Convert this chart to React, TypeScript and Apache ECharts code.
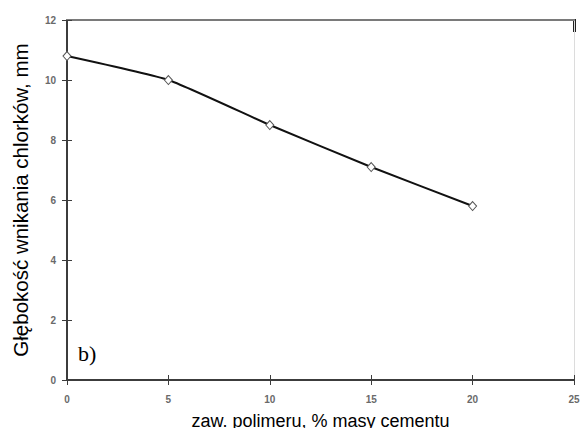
import React, { useEffect, useRef } from "react";
import * as echarts from "echarts";

const xValues = [0, 5, 10, 15, 20];
const depthValues = [10.8, 10.0, 8.5, 7.1, 5.8];
const xTicks = [0, 5, 10, 15, 20, 25];
const yTicks = [0, 2, 4, 6, 8, 10, 12];

export default function App() {
  const ref = useRef<HTMLDivElement>(null);
  useEffect(() => {
    if (!ref.current) return;
    const chart = echarts.init(ref.current, null, { renderer: "svg" });
    const font = "Liberation Sans, Arial, sans-serif";
    const labelStyle = { color: "#6a6a6a", fontSize: 10, fontFamily: font, fontWeight: "bold" as const };
    chart.setOption({
      animation: false,
      backgroundColor: "#ffffff",
      grid: { left: 67, right: 10, top: 20, bottom: 48, containLabel: false, outerBoundsMode: "none" },
      xAxis: [
        {
          type: "value",
          min: xTicks[0],
          max: xTicks[xTicks.length - 1],
          interval: 5,
          position: "bottom",
          axisLine: { show: true, onZero: false, lineStyle: { color: "#3c3c3c", width: 2 } },
          axisTick: { show: true, length: 5, inside: false, lineStyle: { color: "#3c3c3c", width: 1 } },
          axisLabel: { ...labelStyle, margin: 14 },
          splitLine: { show: false },
          name: "zaw. polimeru, % masy cementu",
          nameLocation: "middle",
          nameGap: 32,
          nameTextStyle: { color: "#000", fontSize: 18, fontFamily: font },
        },
        {
          type: "value",
          min: 0,
          max: 25,
          interval: 5,
          position: "top",
          axisLine: { show: true, onZero: false, lineStyle: { color: "#7a7a7a", width: 2 } },
          axisTick: { show: false },
          axisLabel: { show: false },
          splitLine: { show: false },
        },
        {
          type: "value",
          min: 0,
          max: 25,
          interval: 5,
          position: "bottom",
          axisLine: { show: false },
          axisTick: { show: true, length: 5, inside: true, lineStyle: { color: "#3c3c3c", width: 1 } },
          axisLabel: { show: false },
          splitLine: { show: false },
        },
      ],
      yAxis: [
        {
          type: "value",
          min: yTicks[0],
          max: yTicks[yTicks.length - 1],
          interval: 2,
          position: "left",
          axisLine: { show: true, onZero: false, lineStyle: { color: "#3c3c3c", width: 2 } },
          axisTick: { show: true, length: 5, inside: false, lineStyle: { color: "#3c3c3c", width: 1 } },
          axisLabel: { ...labelStyle, margin: 11 },
          splitLine: { show: false },
          name: "Głębokość wnikania chlorków, mm",
          nameLocation: "middle",
          nameGap: 36,
          nameTextStyle: { color: "#000", fontSize: 20.5, fontFamily: font },
        },
        {
          type: "value",
          min: 0,
          max: 12,
          interval: 2,
          position: "left",
          axisLine: { show: false },
          axisTick: { show: true, length: 5, inside: true, lineStyle: { color: "#3c3c3c", width: 1 } },
          axisLabel: { show: false },
          splitLine: { show: false },
        },
        {
          type: "value",
          min: 0,
          max: 12,
          interval: 2,
          position: "right",
          axisLine: { show: true, onZero: false, lineStyle: { color: "#dcdcdc", width: 1 } },
          axisTick: { show: false },
          axisLabel: { show: false },
          splitLine: { show: false },
        },
      ],
      series: [
        {
          type: "line",
          xAxisIndex: 0,
          yAxisIndex: 0,
          data: xValues.map((x, i) => [x, depthValues[i]]),
          smooth: 0.15,
          symbol: "diamond",
          symbolSize: [8, 9],
          showSymbol: true,
          lineStyle: { color: "#111111", width: 2 },
          itemStyle: { color: "#ffffff", borderColor: "#555555", borderWidth: 1 },
        },
      ],
      graphic: [
        {
          type: "text",
          left: 78,
          top: 342,
          style: { text: "b)", fill: "#000", fontSize: 22, fontFamily: "Liberation Serif, Times New Roman, serif" },
        },
        {
          type: "rect",
          shape: { x: 573, y: 19, width: 3, height: 13 },
          style: { fill: "#222222" },
        },
      ],
    });
    return () => chart.dispose();
  }, []);
  return <div ref={ref} style={{ width: 584, height: 428, position: "absolute", left: 0, top: 0 }} />;
}
